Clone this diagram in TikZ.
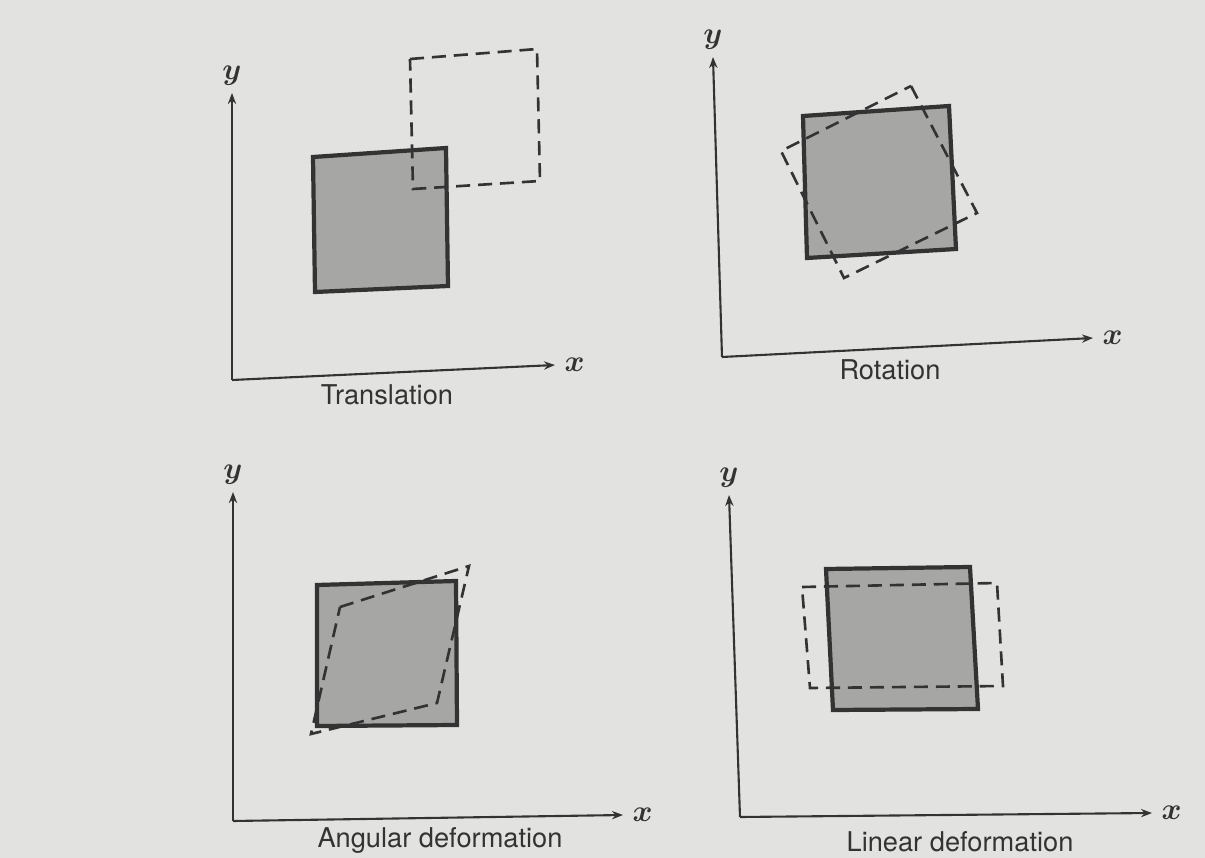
\documentclass[tikz,border=0pt]{standalone}
\usepackage{fontspec}
\usepackage{bm}
\newfontfamily\capfont{TeX Gyre Heros}
\usetikzlibrary{arrows.meta}
\definecolor{paper}{HTML}{E2E2E0}
\definecolor{shade}{HTML}{A6A6A5}
\definecolor{ink}{HTML}{333333}

\begin{document}
\begin{tikzpicture}[x=0.02cm,y=-0.02cm,>={Stealth[length=2.2mm]},
  axis/.style={->,ink,line width=1.2pt},
  elem/.style={fill=shade,draw=ink,line width=2.4pt},
  moved/.style={draw=ink,dash pattern=on 8pt off 4.5pt,line width=1.5pt},
  panelcap/.style={font=\capfont\fontsize{15.5}{18}\selectfont,text=ink},
  lbl/.style={font=\fontsize{16}{19}\selectfont,text=ink}]
\fill[paper] (0,0) rectangle (1205,858);
\useasboundingbox (0,0) rectangle (1205,858);

% axes of the four panels
\foreach \p/\ox/\oy/\yx/\yy/\xx/\xy in {1/232/380/232/93/555/365, 2/722/357/713/57/1093/338,
    3/233/821/233/492/623/815, 4/740/817/729/495/1152/813}{
  \coordinate (o\p) at (\ox,\oy);
  \coordinate (ty\p) at (\yx,\yy);
  \coordinate (tx\p) at (\xx,\xy);
  \draw[axis] (o\p) -- (ty\p);
  \draw[axis] (o\p) -- (tx\p);
  \node[lbl,above=1pt] (ylab\p) at (ty\p) {$\bm{y}$};
  \node[lbl,right=2pt] (xlab\p) at (tx\p) {$\bm{x}$};
}

% translation
\draw[elem] (313,157) -- (446,148) -- (448,286) -- (315,292) -- cycle;
\draw[moved] (410,59) -- (537,49) -- (540,181) -- (413,189) -- cycle;
\node[panelcap] (trans) at (387,395) {Translation};

% rotation
\draw[elem] (803,116) -- (949,106) -- (956,249) -- (807,258) -- cycle;
\draw[moved] (911,86) -- (977,213) -- (844,278) -- (781,151) -- cycle;
\node[panelcap] (rot) at (890,370) {Rotation};

% angular deformation
\draw[elem] (317,585) -- (456,581) -- (457,725) -- (317,726) -- cycle;
\draw[moved] (340,607) -- (469,566) -- (437,703) -- (311,734) -- cycle;
\node[panelcap] (angdef) at (440,840) {Angular deformation};

% linear deformation
\draw[elem] (826,569) -- (970,567) -- (978,709) -- (833,710) -- cycle;
\draw[moved] (802,587) -- (997,583) -- (1003,686) -- (810,688) -- cycle;
\node[panelcap] (lindef) at (960,842) {Linear deformation};
\end{tikzpicture}
\end{document}
